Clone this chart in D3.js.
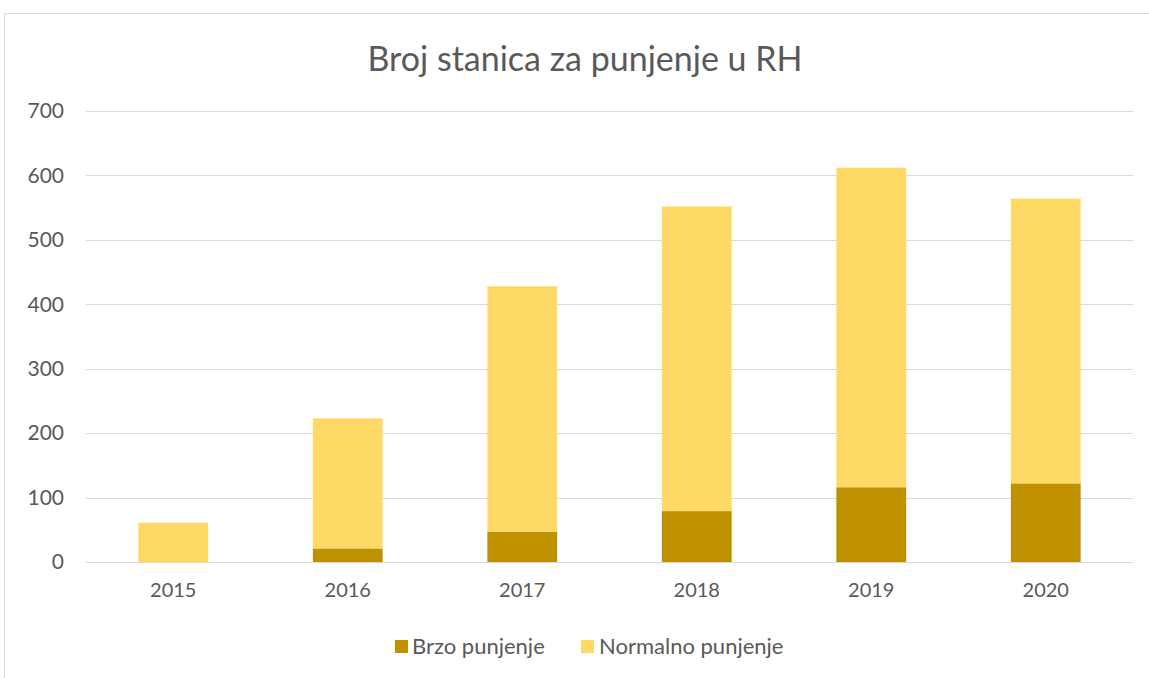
<!DOCTYPE html>
<html><head><meta charset="utf-8">
<script src="https://cdn.jsdelivr.net/npm/d3@7"></script>
<style>body{margin:0;background:#fff;} svg{display:block;} text{font-family:Lato,"Open Sans",sans-serif;fill:#595959;}</style>
</head><body>
<svg id="c" width="1149" height="678"></svg>
<script>
const categories = ["2015","2016","2017","2018","2019","2020"];
const brzo = [0, 21, 47, 79, 116, 122];
const normalno = [61, 202, 381, 473, 496, 442];
const seriesNames = ["Brzo punjenje","Normalno punjenje"];
const seriesColors = ["#BF9000","#FFD966"];
const yTicks = [0,100,200,300,400,500,600,700];
const title = "Broj stanica za punjenje u RH";

const svg = d3.select("#c");
// chart border
svg.append("rect").attr("x",4.5).attr("y",13.5).attr("width",1200).attr("height",700)
  .attr("fill","none").attr("stroke","#d9d9d9");

const x = d3.scaleBand().domain(categories).range([86,1133]).paddingInner(0.6).paddingOuter(0.3);
const y = d3.scaleLinear().domain([0,700]).range([562,111]);

// gridlines
svg.append("g").selectAll("line").data(yTicks).join("line")
  .attr("x1",86).attr("x2",1133).attr("y1",d=>Math.round(y(d))+0.5).attr("y2",d=>Math.round(y(d))+0.5)
  .attr("stroke","#d9d9d9").attr("stroke-width",1);

// y labels
const yAxis = d3.axisLeft(y).tickValues(yTicks).tickSize(0).tickPadding(0);
const gy = svg.append("g").attr("transform","translate(64,0)").call(yAxis);
gy.select(".domain").remove();
gy.selectAll("text").style("font-size","21px").attr("fill","#595959").style("font-family","Lato,'Open Sans',sans-serif");

// x labels
const xAxis = d3.axisBottom(x).tickSize(0).tickPadding(0);
const gx = svg.append("g").attr("transform","translate(0,583)").call(xAxis);
gx.select(".domain").remove();
gx.selectAll("text").style("font-size","20px").attr("fill","#595959").attr("dy","0.71em").style("font-family","Lato,'Open Sans',sans-serif");

// stacked bars
const rows = categories.map((c,i)=>({cat:c, b:brzo[i], n:normalno[i]}));
const stack = d3.stack().keys(["b","n"])(rows);
svg.append("g").selectAll("g").data(stack).join("g")
  .attr("fill",(d,i)=>seriesColors[i])
  .selectAll("rect").data(d=>d).join("rect")
  .attr("x",d=>x(d.data.cat)).attr("width",x.bandwidth())
  .attr("y",d=>y(d[1])).attr("height",d=>y(d[0])-y(d[1]));

// title
svg.append("text").attr("x",585).attr("y",71).attr("text-anchor","middle")
  .style("font-size","34px").text(title);

// legend
const leg = [{x:395,tx:412},{x:581,tx:599}];
seriesNames.forEach((s,i)=>{
  svg.append("rect").attr("x",leg[i].x).attr("y",640).attr("width",13).attr("height",13).attr("fill",seriesColors[i]);
  svg.append("text").attr("x",leg[i].tx).attr("y",654).style("font-size","22px").text(s);
});
</script>
</body></html>
